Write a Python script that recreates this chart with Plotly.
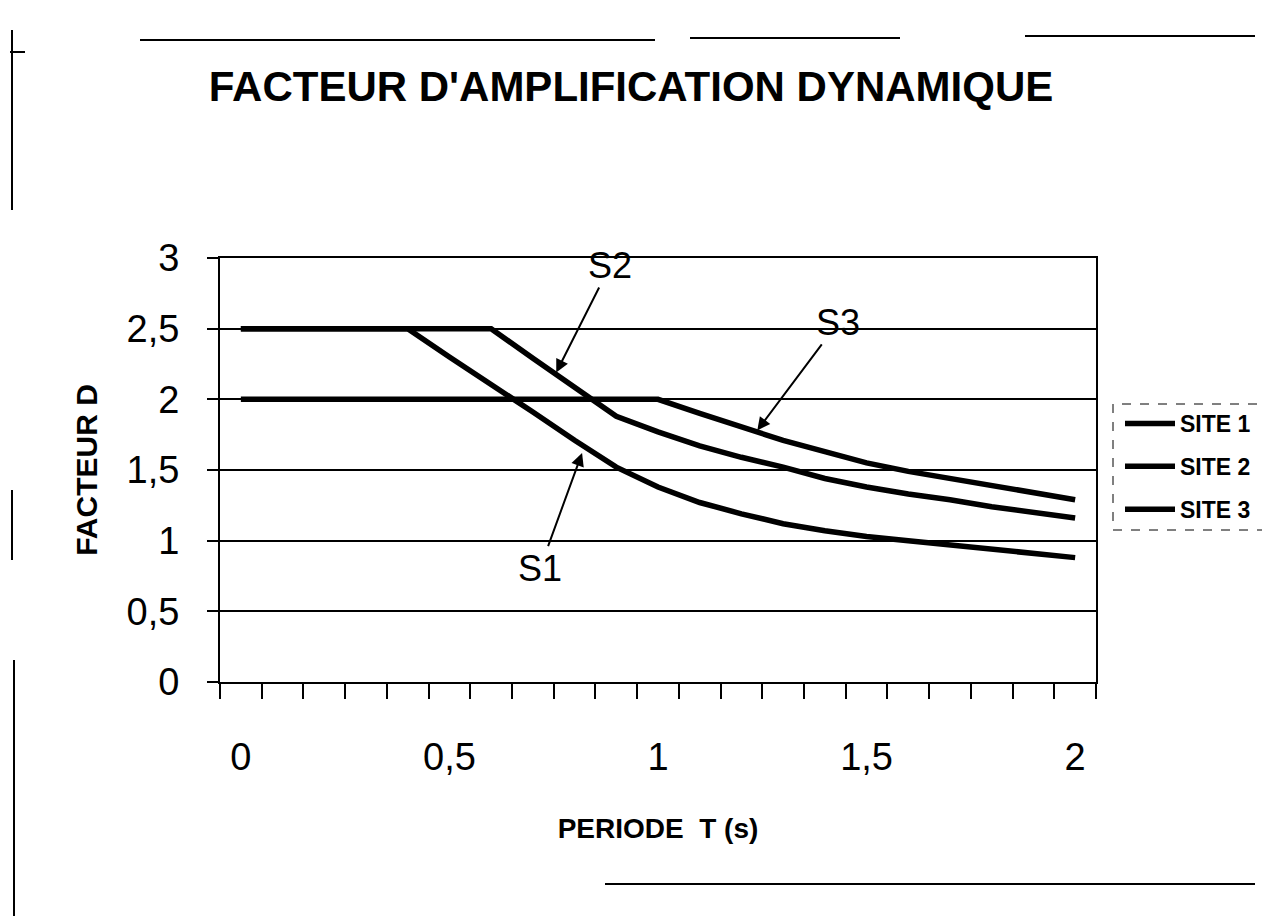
import plotly.graph_objects as go

# ---- data ----
periode = [0.0, 0.1, 0.2, 0.3, 0.4, 0.5, 0.6, 0.7, 0.8, 0.9, 1.0,
           1.1, 1.2, 1.3, 1.4, 1.5, 1.6, 1.7, 1.8, 1.9, 2.0]
site1 = [2.5, 2.5, 2.5, 2.5, 2.5, 2.30, 2.11, 1.91, 1.71, 1.52, 1.38,
         1.27, 1.19, 1.12, 1.07, 1.03, 1.00, 0.97, 0.94, 0.91, 0.88]
site2 = [2.5, 2.5, 2.5, 2.5, 2.5, 2.5, 2.5, 2.29, 2.09, 1.88, 1.77,
         1.67, 1.59, 1.52, 1.44, 1.38, 1.33, 1.29, 1.24, 1.20, 1.16]
site3 = [2.0, 2.0, 2.0, 2.0, 2.0, 2.0, 2.0, 2.0, 2.0, 2.0, 2.0,
         1.90, 1.80, 1.71, 1.63, 1.55, 1.49, 1.44, 1.39, 1.34, 1.29]
series_names = ["SITE 1", "SITE 2", "SITE 3"]

x_tick_vals = [0, 0.5, 1, 1.5, 2]
x_tick_text = ["0", "0,5", "1", "1,5", "2"]
y_tick_vals = [0, 0.5, 1, 1.5, 2, 2.5, 3]
y_tick_text = ["0", "0,5", "1", "1,5", "2", "2,5", "3"]

labels = ["S1", "S2", "S3"]
label_points = [(0.818, 1.62), (0.756, 2.19), (1.238, 1.78)]   # arrow heads (data)
label_offsets = [(-42, 115), (54, -107), (81, -108)]           # text offsets (px)

# ---- layout geometry ----
W, H = 1262, 916
L, R, T, B = 220, 1096, 258, 682
FONT = "Liberation Sans, Arial, sans-serif"

def px(xp):
    return (xp - L) / (R - L)

def py(yp):
    return (B - yp) / (B - T)

fig = go.Figure()
for name, ys, grp in zip(series_names, [site1, site2, site3], ["g1", "g2", "g3"]):
    fig.add_trace(go.Scatter(
        x=periode, y=ys, mode="lines", name=name, legendgroup=grp,
        line=dict(color="black", width=5.5),
    ))

for txt, (hx, hy), (ox, oy) in zip(labels, label_points, label_offsets):
    fig.add_annotation(
        x=hx, y=hy, text=txt, showarrow=True, ax=ox, ay=oy,
        arrowhead=2, arrowsize=1.3, arrowwidth=2, arrowcolor="black",
        font=dict(family=FONT, size=36, color="black"),
    )

# scanned page frame fragments
frame = [
    (140, 40, 655, 40), (690, 38, 900, 38), (1025, 36, 1255, 36),
    (12, 30, 12, 210), (12, 490, 12, 560), (14, 660, 14, 916),
    (605, 884, 1255, 884), (10, 52, 25, 52),
]
for x0, y0, x1, y1 in frame:
    fig.add_shape(type="line", xref="paper", yref="paper",
                  x0=px(x0), y0=py(y0), x1=px(x1), y1=py(y1),
                  line=dict(color="black", width=2))

# legend dashed frame
fig.add_shape(type="rect", xref="paper", yref="paper",
              x0=px(1113), y0=py(530), x1=px(1275), y1=py(404),
              line=dict(color="black", width=1, dash="dash"))

fig.update_layout(
    width=W, height=H,
    margin=dict(l=L, r=W - R, t=T, b=H - B, autoexpand=False),
    paper_bgcolor="white", plot_bgcolor="white",
    font=dict(family=FONT, color="black"),
    title=dict(text="FACTEUR D'AMPLIFICATION DYNAMIQUE",
               x=0.5, xanchor="center", y=1 - 86 / H, yanchor="middle",
               font=dict(family=FONT, size=42, weight="bold", color="black")),
    showlegend=True,
    legend=dict(xref="container", yref="container",
                x=1120 / W, xanchor="left", y=1 - 402 / H, yanchor="top",
                font=dict(family=FONT, size=23, weight="bold", color="black"),
                traceorder="grouped", tracegroupgap=10, itemwidth=50,
                bgcolor="rgba(0,0,0,0)", borderwidth=0),
    xaxis=dict(
        range=[-0.05, 2.05], tickmode="array", tickvals=x_tick_vals,
        ticktext=x_tick_text, ticks="", ticklabelstandoff=40,
        tickfont=dict(family=FONT, size=38, color="black"),
        showgrid=False, zeroline=False,
        showline=True, linecolor="black", linewidth=2, mirror=True,
        minor=dict(tick0=-0.05, dtick=0.1, ticks="outside", ticklen=15,
                   tickwidth=2, tickcolor="black", showgrid=False),
        title=dict(text="PERIODE  T (s)", standoff=42,
                   font=dict(family=FONT, size=28, weight="bold", color="black")),
    ),
    yaxis=dict(
        range=[0, 3], tickmode="array", tickvals=y_tick_vals,
        ticktext=y_tick_text, ticks="outside", ticklen=11, tickwidth=2,
        tickcolor="black", ticklabelstandoff=20,
        tickfont=dict(family=FONT, size=38, color="black"),
        showgrid=True, gridcolor="black", gridwidth=1.5, zeroline=False,
        showline=True, linecolor="black", linewidth=2, mirror=True,
        title=dict(text="FACTEUR D", standoff=20,
                   font=dict(family=FONT, size=30, weight="bold", color="black")),
    ),
)

fig.write_html("out.html", config={"displayModeBar": False},
               post_script="document.body.style.margin='0';"
                           "document.body.style.overflow='hidden';")
